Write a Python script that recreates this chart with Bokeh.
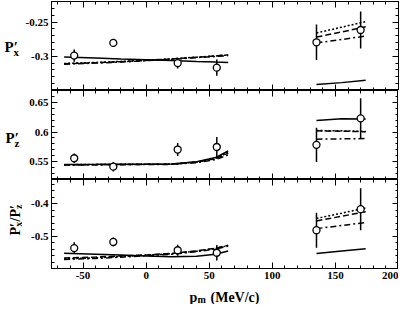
import numpy as np
from bokeh.plotting import figure
from bokeh.models import Range1d, LinearAxis, FixedTicker, Label
from bokeh.layouts import column, row
from bokeh.embed import file_html
from bokeh.resources import INLINE

FONT = "Liberation Serif"

# ---------------- data ----------------
pm_exp = [-57, -26, 25, 56, 135, 170]

px_val = [-0.299, -0.2805, -0.310, -0.3166, -0.2796, -0.2616]
px_err = [0.009, 0.0055, 0.008, 0.012, 0.026, 0.027]

pz_val = [0.5558, 0.5416, 0.5705, 0.5748, 0.5784, 0.6231]
pz_err = [0.008, 0.008, 0.011, 0.017, 0.029, 0.034]

rat_val = [-0.537, -0.518, -0.5436, -0.5513, -0.4817, -0.4167]
rat_err = [0.018, 0.014, 0.017, 0.024, 0.054, 0.065]

pm_lo = [-65, -40, -20, 0, 20, 40, 55, 65]
pm_hi = [135, 155, 174]

# Px' curves
px_solid_lo = [-0.301, -0.3025, -0.304, -0.305, -0.306, -0.3075, -0.3085, -0.309]
px_dash_lo = [-0.311, -0.3095, -0.308, -0.306, -0.304, -0.3015, -0.2995, -0.298]
px_dot_lo = [-0.3105, -0.309, -0.3075, -0.3058, -0.3038, -0.3013, -0.2995, -0.2982]
px_dd_lo = [-0.3115, -0.310, -0.3085, -0.3065, -0.3045, -0.302, -0.3003, -0.299]
px_solid_hi = [-0.3414, -0.3385, -0.335]
px_dash_hi = [-0.272, -0.2645, -0.257]
px_dot_hi = [-0.266, -0.2575, -0.2494]
px_dd_hi = [-0.2805, -0.2755, -0.2705]

# Pz' curves
pz_solid_lo = [0.5453, 0.5455, 0.5457, 0.5458, 0.5462, 0.550, 0.557, 0.568]
pz_dash_lo = [0.5448, 0.545, 0.5453, 0.5455, 0.5458, 0.5492, 0.555, 0.5645]
pz_dot_lo = [0.545, 0.5452, 0.5455, 0.5457, 0.546, 0.5495, 0.5555, 0.5655]
pz_dd_lo = [0.5445, 0.5447, 0.545, 0.5452, 0.5455, 0.5485, 0.5535, 0.5615]
pz_solid_hi = [0.6195, 0.6225, 0.6218]
pz_dash_hi = [0.602, 0.6015, 0.6005]
pz_dot_hi = [0.6025, 0.602, 0.601]
pz_dd_hi = [0.588, 0.5885, 0.589]

# Px'/Pz' curves
rat_solid_lo = [-0.553, -0.556, -0.5585, -0.561, -0.564, -0.5625, -0.556, -0.546]
rat_dash_lo = [-0.5677, -0.5645, -0.561, -0.558, -0.5535, -0.5455, -0.5375, -0.528]
rat_dot_lo = [-0.570, -0.567, -0.563, -0.559, -0.5545, -0.5465, -0.538, -0.529]
rat_dd_lo = [-0.572, -0.569, -0.565, -0.5605, -0.556, -0.548, -0.540, -0.531]
rat_solid_hi = [-0.5533, -0.546, -0.539]
rat_dash_hi = [-0.453, -0.4385, -0.4244]
rat_dot_hi = [-0.4453, -0.429, -0.413]
rat_dd_hi = [-0.4768, -0.467, -0.4577]

# ticks
x_major = [-50, 0, 50, 100, 150, 200]
x_minor = list(range(-70, 201, 10))
x_labels = {-50: "-50", 0: "0", 50: "50", 100: "100", 150: "150", 200: "200"}

y1_major = [-0.3, -0.25]
y1_minor = [round(-0.34 + 0.01 * i, 2) for i in range(13)]
y1_labels = {-0.3: "-0.3", -0.25: "-0.25"}

y2_major = [0.55, 0.6, 0.65]
y2_minor = [round(0.53 + 0.01 * i, 2) for i in range(14)]
y2_labels = {0.55: "0.55", 0.6: "0.6", 0.65: "0.65"}

y3_major = [-0.5, -0.4]
y3_minor = [round(-0.58 + 0.02 * i, 2) for i in range(13)]
y3_labels = {-0.5: "-0.5", -0.4: "-0.4"}

# titles
y1_title = ["P\u2032", "x"]
y2_title = ["P\u2032", "z"]
y3_title = ["P\u2032", "x", "/P\u2032", "z"]
x_title = ["p", "m", "(MeV/c)"]

FRAME_W = 347
FRAME_H = 89
LAB_W = 22
BORDER_L = 27
BOTTOM_AX = 15
TOTAL_W = 398
ROW_H = FRAME_H * 3 + BOTTOM_AX + 1
XT_H = 21


def style_axis(ax, show_labels, overrides=None):
    ax.axis_line_color = "black"
    ax.axis_line_width = 1
    ax.major_tick_in = 6
    ax.major_tick_out = 0
    ax.minor_tick_in = 3
    ax.minor_tick_out = 0
    ax.major_tick_line_color = "black"
    ax.minor_tick_line_color = "black"
    ax.major_label_text_font = FONT
    ax.major_label_text_font_style = "bold"
    if show_labels:
        ax.major_label_text_color = "black"
        ax.major_label_text_font_size = "11px"
        ax.major_label_standoff = 3
        if overrides:
            ax.major_label_overrides = overrides
    else:
        ax.major_label_text_color = None
        ax.major_label_text_font_size = "0px"
        ax.major_label_standoff = 0


def make_panel(yr, y_major, y_minor, y_labels, vals, errs, lo, hi, bottom=False, top=False):
    p = figure(frame_width=FRAME_W, frame_height=FRAME_H,
               x_range=Range1d(-75, 200), y_range=Range1d(*yr),
               output_backend="svg", toolbar_location=None,
               x_axis_location=None, y_axis_location=None,
               min_border_left=BORDER_L, min_border_right=2,
               min_border_top=1 if top else 0,
               min_border_bottom=BOTTOM_AX if bottom else 0,
               background_fill_color="white", border_fill_color="white")
    p.xgrid.grid_line_color = None
    p.ygrid.grid_line_color = None
    p.outline_line_color = "black"
    p.outline_line_width = 1

    xt = FixedTicker(ticks=x_major, minor_ticks=x_minor)
    yt = FixedTicker(ticks=y_major, minor_ticks=y_minor)

    ax = LinearAxis(ticker=xt)
    style_axis(ax, bottom, x_labels)
    p.add_layout(ax, "below")
    ax = LinearAxis(ticker=xt)
    style_axis(ax, False)
    p.add_layout(ax, "above")
    ax = LinearAxis(ticker=yt)
    style_axis(ax, True, y_labels)
    p.add_layout(ax, "left")
    ax = LinearAxis(ticker=yt)
    style_axis(ax, False)
    p.add_layout(ax, "right")

    styles = [None, "6 3", "2 2", "6 3 2 3"]
    for dash, ylo, yhi in zip(styles, lo, hi):
        kw = dict(line_color="black", line_width=1.5)
        if dash:
            kw["line_dash"] = dash
        p.line(pm_lo, ylo, **kw)
        p.line(pm_hi, yhi, **kw)

    v = np.array(vals)
    e = np.array(errs)
    p.segment(x0=pm_exp, y0=v - e, x1=pm_exp, y1=v + e, line_color="black", line_width=1.5)
    p.scatter(pm_exp, vals, marker="circle", size=7, fill_color="white",
              line_color="black", line_width=1.3)
    return p


p1 = make_panel((-0.35, -0.22), y1_major, y1_minor, y1_labels, px_val, px_err,
                [px_solid_lo, px_dash_lo, px_dot_lo, px_dd_lo],
                [px_solid_hi, px_dash_hi, px_dot_hi, px_dd_hi], top=True)
p2 = make_panel((0.52, 0.67), y2_major, y2_minor, y2_labels, pz_val, pz_err,
                [pz_solid_lo, pz_dash_lo, pz_dot_lo, pz_dd_lo],
                [pz_solid_hi, pz_dash_hi, pz_dot_hi, pz_dd_hi])
p3 = make_panel((-0.6, -0.325), y3_major, y3_minor, y3_labels, rat_val, rat_err,
                [rat_solid_lo, rat_dash_lo, rat_dot_lo, rat_dd_lo],
                [rat_solid_hi, rat_dash_hi, rat_dot_hi, rat_dd_hi], bottom=True)


def blank(w, h):
    f = figure(frame_width=w, frame_height=h, x_range=Range1d(0, w), y_range=Range1d(0, h),
               output_backend="svg", toolbar_location=None,
               x_axis_location=None, y_axis_location=None,
               min_border=0, outline_line_color=None,
               background_fill_color="white", border_fill_color="white")
    f.xgrid.grid_line_color = None
    f.ygrid.grid_line_color = None
    return f


def lab(f, text, x, y, size, angle=0):
    f.add_layout(Label(x=x, y=y, text=text,
                       text_font=FONT, text_font_style="bold",
                       text_font_size=size, text_color="black",
                       text_align="left", text_baseline="alphabetic",
                       angle=angle))


# left strip with the y titles (coordinates: pixels, y measured up from strip bottom)
left = blank(LAB_W, ROW_H)
lab(left, y1_title[0], 4, ROW_H - 46, "15px")
lab(left, y1_title[1], 13, ROW_H - 51, "11px")
lab(left, y2_title[0], 5, ROW_H - 137, "15px")
lab(left, y2_title[1], 14, ROW_H - 142, "11px")
ang = np.pi / 2
y0 = ROW_H - 235
lab(left, y3_title[0], 15, y0, "14px", ang)
lab(left, y3_title[1], 17.5, y0 + 8.8, "10px", ang)
lab(left, y3_title[2], 15, y0 + 14, "14px", ang)
lab(left, y3_title[3], 17.5, y0 + 26.5, "10px", ang)

# bottom strip with the x title
bottom = blank(TOTAL_W, XT_H)
lab(bottom, x_title[0], 189, 7, "14px")
lab(bottom, x_title[1], 197, 5, "10px")
lab(bottom, x_title[2], 210, 7, "14px")

layout = column(row(left, column(p1, p2, p3, spacing=0), spacing=0), bottom, spacing=0)
open("out.html", "w").write(file_html(layout, INLINE))
